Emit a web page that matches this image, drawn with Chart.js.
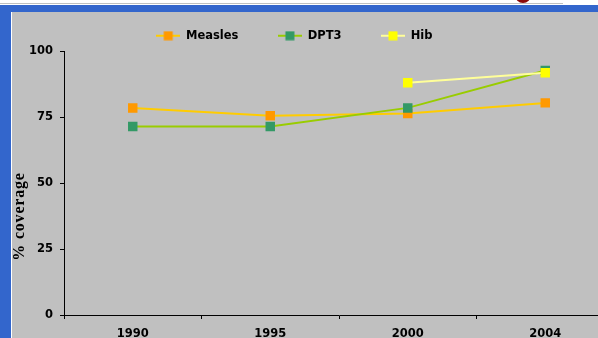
<!DOCTYPE html>
<html>
<head>
<meta charset="utf-8">
<script src="https://cdn.jsdelivr.net/npm/chart.js@4"></script>
<style>
    body { margin: 0; background: #c0c0c0; width: 598px; height: 338px; overflow: hidden; position: relative; }
    #mine { position: absolute; left: 0; top: 0; }
    .top-white { position: absolute; left: 0; top: 0; width: 598px; height: 5px; background: #fff; }
    .top-line { position: absolute; left: 0; top: 3px; width: 563px; height: 1px; background: #c0c0c0; }
    .red-bit { position: absolute; left: 515px; top: -8px; width: 16px; height: 11px; border-radius: 0 0 8px 8px; background: #8b0a0a; }
    .blue-top { position: absolute; left: 0; top: 5px; width: 598px; height: 7px; background: #3366cc; }
    .blue-left { position: absolute; left: 0; top: 5px; width: 11px; height: 333px; background: #3366cc; }
    .white-left { position: absolute; left: 11px; top: 12px; width: 1px; height: 326px; background: #fff; }
</style>
</head>
<body>
<!-- canvas is wider than the page: the plot area runs past the right edge -->
<canvas id="mine" width="614" height="338"></canvas>
<div class="top-white"></div>
<div class="top-line"></div>
<div class="red-bit"></div>
<div class="blue-top"></div>
<div class="blue-left"></div>
<div class="white-left"></div>
<script>
    // data
    const years = ["1990", "1995", "2000", "2004"];
    const measles = [78.6, 75.6, 76.5, 80.5];
    const dpt3 = [71.5, 71.5, 78.6, 92.8];
    const hib = [null, null, 88.1, 91.9];
    const names = ["Measles", "DPT3", "Hib"];
    const lineColors = ["#ffcc00", "#99cc00", "#ffff99"];
    const markColors = ["#ff9900", "#339966", "#ffff00"];

    const padLeft = -25.25;
    const font = { family: "'DejaVu Sans', Verdana, sans-serif", size: 11.5, weight: "bold" };

    // small line + square picture for the legend
    function legendIcon(line, mark) {
        let c = document.createElement("canvas");
        c.width = 24;
        c.height = 10;
        let g = c.getContext("2d");
        g.fillStyle = line;
        g.fillRect(0, 4, 24, 2);
        g.fillStyle = mark;
        g.fillRect(7.5, 0.5, 9, 9);
        return c;
    }

    function makeSet(i, values, order) {
        return {
            label: names[i],
            data: values,
            order: order,
            borderColor: lineColors[i],
            borderWidth: 2,
            backgroundColor: markColors[i],
            pointStyle: "rect",
            pointRadius: 6.7,
            pointBorderWidth: 0,
            pointBackgroundColor: markColors[i],
            tension: 0
        };
    }

    const yTitle = {
        id: "yTitle",
        afterDraw(chart) {
            let ctx = chart.ctx;
            ctx.save();
            ctx.translate(24, 216.5);
            ctx.rotate(-Math.PI / 2);
            ctx.font = "bold 16px 'Liberation Serif', 'Times New Roman', serif";
            ctx.letterSpacing = "0.8px";
            ctx.fillStyle = "#000";
            ctx.textAlign = "center";
            ctx.textBaseline = "alphabetic";
            ctx.fillText("% coverage", 0, 0);
            ctx.restore();
        }
    };

    var ctx = document.getElementById("mine").getContext("2d");
    var myChart = new Chart(ctx, {
        type: "line",
        data: {
            labels: years,
            datasets: [makeSet(0, measles, 3), makeSet(1, dpt3, 2), makeSet(2, hib, 1)]
        },
        options: {
            responsive: false,
            animation: false,
            devicePixelRatio: 1,
            layout: { autoPadding: false, padding: { left: padLeft, right: 0, top: -9.5, bottom: 0 } },
            plugins: {
                tooltip: { enabled: false },
                legend: {
                    position: "top",
                    align: "center",
                    labels: {
                        usePointStyle: true,
                        pointStyleWidth: 24,
                        padding: 39.5,
                        color: "#000",
                        font: font,
                        generateLabels: () => names.map((n, i) => ({
                            text: n,
                            datasetIndex: i,
                            hidden: false,
                            fillStyle: markColors[i],
                            strokeStyle: lineColors[i],
                            lineWidth: 0,
                            fontColor: "#000",
                            pointStyle: legendIcon(lineColors[i], markColors[i])
                        }))
                    }
                }
            },
            scales: {
                x: {
                    offset: true,
                    grid: { offset: true, drawOnChartArea: false, tickLength: 4, tickColor: "#000" },
                    border: { color: "#000", width: 1 },
                    ticks: { color: "#000", font: font, padding: 8, maxRotation: 0 },
                    afterFit: s => { s.height = 23; }
                },
                y: {
                    min: 0,
                    max: 100,
                    grid: { drawOnChartArea: false, tickLength: 4, tickColor: "#000" },
                    border: { color: "#000", width: 1 },
                    ticks: { color: "#000", font: font, stepSize: 25, padding: 7 },
                    afterFit: s => { s.width = 64 - padLeft; }
                }
            }
        },
        plugins: [yTitle]
    });
</script>
</body>
</html>
